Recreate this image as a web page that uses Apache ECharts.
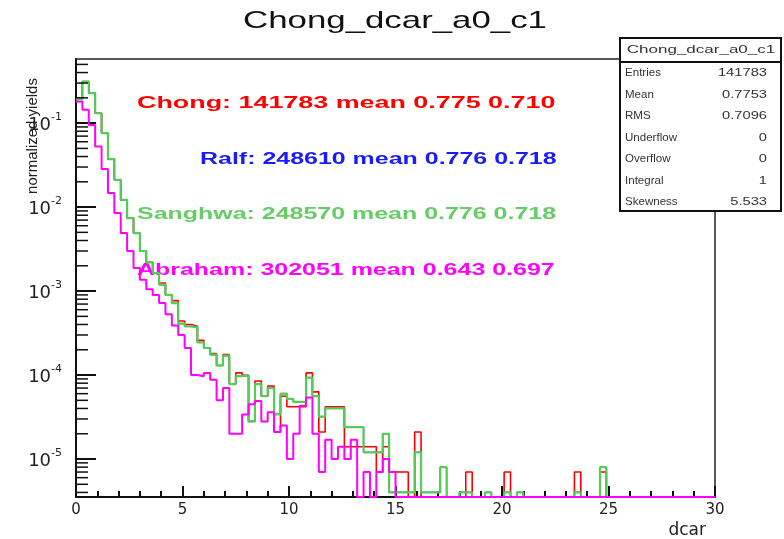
<!DOCTYPE html>
<html>
<head>
<meta charset="utf-8">
<script src="https://cdn.jsdelivr.net/npm/echarts@6/dist/echarts.min.js"></script>
<style>
  html, body { margin: 0; padding: 0; background: #ffffff; }
  #main { width: 784px; height: 539px; }
</style>
</head>
<body>
<div id="main"></div>
<script>
// dcar distributions, 100 bins of 0.3 from 0 to 30, normalized yields
const binWidth = 0.3;

const chong = [
  0.193, 0.313, 0.228, 0.131, 0.076, 0.0373, 0.0211, 0.0122, 0.0074, 0.0049,
  0.0030, 0.0022, 0.00164, 0.00125, 0.00090, 0.00077, 0.00044, 0.00040, 0.00038, 0.00026,
  0.00021, 0.00018, 0.00013, 0.000175, 0.000078, 0.000106, 0.000099, 0.000028, 0.000085, 0.000056,
  0.000074, 0.000021, 0.000056, 0.000042, 0.000042, 0.000042, 0.000106, 0.000063, 0.000021, 0.000042,
  0.000042, 0.000042, 0.000014, 0.000014, 0.000014, 0.000014, 0.000014, 0.000007, 0.000014, 0.000007,
  0.000007, 0.000007, 0, 0.000021, 0, 0, 0, 0, 0, 0,
  0, 0.000007, 0, 0, 0, 0, 0, 0.000007, 0, 0,
  0, 0, 0, 0, 0, 0, 0, 0, 0.000007, 0,
  0, 0, 0.000007, 0, 0, 0, 0, 0, 0, 0,
  0, 0, 0, 0, 0, 0, 0, 0, 0, 0
];

const ralf = [
  0.193, 0.313, 0.228, 0.131, 0.076, 0.0373, 0.0211, 0.0122, 0.0074, 0.0049,
  0.0030, 0.0022, 0.00164, 0.00119, 0.00090, 0.00072, 0.00041, 0.00038, 0.00037, 0.000245,
  0.00021, 0.000175, 0.00013, 0.00017, 0.000078, 0.000097, 0.000099, 0.000028, 0.000078, 0.000056,
  0.000070, 0.000034, 0.000060, 0.000052, 0.000048, 0.000048, 0.000093, 0.000056, 0.000032, 0.000040,
  0.000040, 0.000040, 0.000024, 0.000024, 0.000024, 0.000012, 0.000012, 0.000012, 0.000020, 0.000004,
  0.000004, 0.000004, 0.000004, 0.000012, 0.000004, 0.000004, 0.000004, 0.000008, 0, 0,
  0.000004, 0.000004, 0, 0, 0.000004, 0, 0, 0.000004, 0, 0.000004,
  0, 0, 0, 0, 0, 0, 0, 0, 0.000004, 0,
  0, 0, 0.000008, 0, 0, 0, 0, 0, 0, 0,
  0, 0, 0, 0, 0, 0, 0, 0, 0, 0
];

const sanghwa = [
  0.193, 0.313, 0.228, 0.131, 0.076, 0.0373, 0.0211, 0.0122, 0.0074, 0.0049,
  0.0030, 0.0022, 0.00164, 0.00119, 0.00090, 0.00072, 0.00041, 0.00038, 0.00037, 0.000245,
  0.00021, 0.000175, 0.00013, 0.00017, 0.000078, 0.000097, 0.000099, 0.000028, 0.000078, 0.000056,
  0.000070, 0.000034, 0.000060, 0.000052, 0.000048, 0.000048, 0.000093, 0.000056, 0.000032, 0.000040,
  0.000040, 0.000040, 0.000024, 0.000024, 0.000024, 0.000012, 0.000012, 0.000012, 0.000020, 0.000004,
  0.000004, 0.000004, 0.000004, 0.000012, 0.000004, 0.000004, 0.000004, 0.000008, 0, 0,
  0.000004, 0.000004, 0, 0, 0.000004, 0, 0, 0.000004, 0, 0.000004,
  0, 0, 0, 0, 0, 0, 0, 0, 0.000004, 0,
  0, 0, 0.000008, 0, 0, 0, 0, 0, 0, 0,
  0, 0, 0, 0, 0, 0, 0, 0, 0, 0
];

const abraham = [
  0.181, 0.144, 0.095, 0.0526, 0.0285, 0.0147, 0.0085, 0.0049, 0.0030, 0.00188,
  0.00136, 0.00105, 0.00090, 0.00072, 0.00053, 0.00039, 0.00030, 0.00021, 0.00010, 0.000097,
  0.000106, 0.000088, 0.000050, 0.000070, 0.000020, 0.000020, 0.000034, 0.000045, 0.000049, 0.000028,
  0.000036, 0.000021, 0.000025, 0.000010, 0.000020, 0.000043, 0.000054, 0.000020, 0.000007, 0.000017,
  0.000010, 0.000014, 0.000010, 0.000017, 0, 0.000007, 0, 0.000007, 0.000010, 0.000007,
  0, 0, 0, 0, 0, 0, 0, 0, 0, 0,
  0, 0, 0, 0, 0, 0, 0, 0, 0, 0,
  0, 0, 0, 0, 0, 0, 0, 0, 0, 0,
  0, 0, 0, 0, 0, 0, 0, 0, 0, 0,
  0, 0, 0, 0, 0, 0, 0, 0, 0, 0
];

const seriesNames  = ['Chong', 'Ralf', 'Sanghwa', 'Abraham'];
const seriesColors = ['#ff0000', '#0000ff', '#55cc55', '#ff00ff'];
const seriesWidths = [1.6, 1.2, 2.2, 2];
const seriesData   = [chong, ralf, sanghwa, abraham];

const infoLines = [
  'Chong: 141783 mean 0.775 0.710',
  'Ralf: 248610 mean 0.776 0.718',
  'Sanghwa: 248570 mean 0.776 0.718',
  'Abraham: 302051 mean 0.643 0.697'
];
const infoColors = ['#ff0000', '#1a1aff', '#66cc66', '#ff00ff'];

const statsTitle = 'Chong_dcar_a0_c1';
const statsLabels = ['Entries', 'Mean', 'RMS', 'Underflow', 'Overflow', 'Integral', 'Skewness'];
const statsValues = ['141783', '0.7753', '0.7096', '0', '0', '1', '5.533'];

const xMin = 0, xMax = 30;
const yMin = 3.53e-6, yMax = 0.58;

// log-axis minor tick values (2..9 x 10^k) inside the visible range
const minorTickValues = [];
for (let k = -6; k <= 0; k++) {
  for (let m = 2; m <= 9; m++) {
    const v = m * Math.pow(10, k);
    if (v > yMin && v < yMax) minorTickValues.push(v);
  }
}

// histogram outline: one point per bin low edge plus the last upper edge;
// empty bins rest on the lower edge of the log axis
function outline(values) {
  const pts = values.map((v, i) => [i * binWidth, v > 0 ? v : yMin]);
  const last = values[values.length - 1];
  pts.push([values.length * binWidth, last > 0 ? last : yMin]);
  return pts;
}

const chart = echarts.init(document.getElementById('main'), null, { renderer: 'canvas' });

const axisFont = 'DejaVu Sans';
const textFont = '"Liberation Sans", Arial, sans-serif';

// placement of the four summary lines
const infoX = [137, 200, 137, 137];
const infoY = [104, 160, 215, 271];
const infoScale = [1.68, 1.56, 1.56, 1.56];

const option = {
  backgroundColor: '#ffffff',
  animation: false,
  grid: {
    left: 76, right: 69, top: 59, bottom: 42,
    outerBoundsMode: 'none', containLabel: false,
    show: true, borderColor: '#222', borderWidth: 1.5, backgroundColor: 'transparent'
  },
  xAxis: {
    type: 'value', min: xMin, max: xMax, interval: 5,
    name: 'dcar', nameLocation: 'end', nameGap: -9,
    nameTextStyle: { fontFamily: axisFont, fontSize: 17, color: '#222', align: 'right', verticalAlign: 'top', padding: [25, 0, 0, 0] },
    axisLine: { show: true, onZero: false, lineStyle: { color: '#111', width: 2 } },
    axisTick: { show: true, inside: true, length: 11, lineStyle: { color: '#111', width: 2 } },
    minorTick: { show: true, splitNumber: 5, length: 6, lineStyle: { color: '#111', width: 2 } },
    splitLine: { show: false },
    axisLabel: { fontFamily: axisFont, fontSize: 15, color: '#222', margin: 6 }
  },
  yAxis: {
    type: 'log', logBase: 10, min: yMin, max: yMax,
    axisLine: { show: true, lineStyle: { color: '#111', width: 2 } },
    axisTick: { show: true, inside: true, length: 20, lineStyle: { color: '#111', width: 2 } },
    splitLine: { show: false },
    axisLabel: {
      showMinLabel: false, showMaxLabel: false, margin: 14,
      formatter: function (v) {
        const e = Math.log10(v);
        if (Math.abs(e - Math.round(e)) > 1e-6) return '';
        return '{b|10}{s|' + Math.round(e) + '}';
      },
      rich: {
        b: { fontFamily: axisFont, fontSize: 18, color: '#222', lineHeight: 22, verticalAlign: 'bottom', padding: [6, 0, 0, 0] },
        s: { fontFamily: axisFont, fontSize: 11, color: '#222', lineHeight: 12, verticalAlign: 'top' }
      }
    }
  },
  series: seriesData.map((d, i) => ({
    name: seriesNames[i],
    type: 'line',
    step: 'end',
    data: outline(d),
    showSymbol: false,
    symbol: 'none',
    clip: true,
    lineStyle: { color: seriesColors[i], width: seriesWidths[i] },
    z: 3 + i
  })).concat([{
    name: 'yMinorTicks',
    type: 'custom',
    silent: true,
    clip: false,
    z: 10,
    data: minorTickValues.map(v => [xMin, v]),
    renderItem: function (params, api) {
      const p = api.coord([api.value(0), api.value(1)]);
      return {
        type: 'line',
        shape: { x1: p[0], y1: p[1], x2: p[0] + 12, y2: p[1] },
        style: { stroke: '#111', lineWidth: 1.5 }
      };
    }
  }]),
  graphic: [
    {
      type: 'text', x: 395, y: 21, scaleX: 1.45,
      style: { text: 'Chong_dcar_a0_c1', font: '24px ' + textFont, fill: '#111', align: 'center', verticalAlign: 'middle' }
    },
    {
      type: 'text', x: 33, y: 136, rotation: Math.PI / 2,
      style: { text: 'normalized yields', font: '15px ' + textFont, fill: '#222', align: 'center', verticalAlign: 'middle' }
    }
  ].concat(infoLines.map((t, i) => ({
    type: 'text', x: infoX[i], y: infoY[i], scaleX: infoScale[i],
    style: { text: t, font: 'bold 16px ' + textFont, fill: infoColors[i], align: 'left', verticalAlign: 'middle' }
  }))).concat([
    {
      type: 'rect', shape: { x: 620, y: 38, width: 161, height: 173 },
      style: { fill: '#ffffff', stroke: '#111', lineWidth: 2 }, z: 20
    },
    {
      type: 'line', shape: { x1: 620, y1: 62, x2: 781, y2: 62 },
      style: { stroke: '#111', lineWidth: 2 }, z: 21
    },
    {
      type: 'text', x: 701, y: 50, z: 21, scaleX: 1.7,
      style: { text: statsTitle, font: '10px ' + textFont, fill: '#333', align: 'center', verticalAlign: 'middle' }
    }
  ]).concat(statsLabels.map((t, i) => ({
    type: 'text', x: 625, y: 73.5 + i * 21.5, z: 21, scaleX: 1.1,
    style: { text: t, font: '10.5px ' + textFont, fill: '#333', align: 'left', verticalAlign: 'middle' }
  }))).concat(statsValues.map((t, i) => ({
    type: 'text', x: 767, y: 73.5 + i * 21.5, z: 21, scaleX: 1.4,
    style: { text: t, font: '10.5px ' + textFont, fill: '#333', align: 'right', verticalAlign: 'middle' }
  })))
};

chart.setOption(option);
</script>
</body>
</html>
